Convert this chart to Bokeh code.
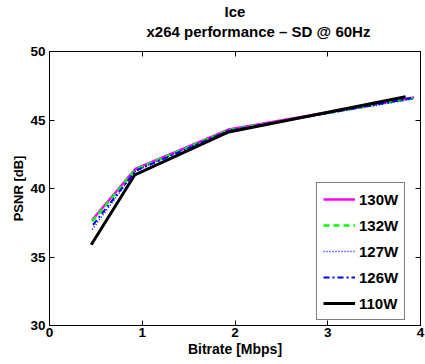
from bokeh.plotting import figure
from bokeh.models import (LinearAxis, Range1d, FixedTicker, Legend, LegendItem, Title,
                          CustomLabelingPolicy)
from bokeh.embed import file_html
from bokeh.resources import INLINE

bitrate_130 = [0.46, 0.93, 1.93, 3.93]
psnr_130 = [37.7, 41.45, 44.3, 46.65]
bitrate_132 = [0.46, 0.93, 1.93, 3.93]
psnr_132 = [37.6, 41.4, 44.25, 46.6]
bitrate_127 = [0.46, 0.93, 1.93, 3.93]
psnr_127 = [37.0, 41.3, 44.25, 46.55]
bitrate_126 = [0.47, 0.93, 1.93, 3.9]
psnr_126 = [37.35, 41.3, 44.2, 46.6]
bitrate_110 = [0.45, 0.92, 1.92, 3.84]
psnr_110 = [35.9, 41.0, 44.1, 46.7]

x_ticks = [0, 1, 2, 3, 4]
y_ticks = [30, 35, 40, 45, 50]

FONT = "Liberation Sans"

p = figure(frame_width=371, frame_height=274, output_backend="svg", toolbar_location=None,
           x_range=Range1d(0, 4), y_range=Range1d(30, 50),
           min_border_left=49, min_border_right=5, min_border_top=49, min_border_bottom=41)

p.xgrid.visible = False
p.ygrid.visible = False
p.outline_line_color = "black"
p.outline_line_width = 1
p.background_fill_color = "white"
p.border_fill_color = "white"

for ax in [p.xaxis[0], p.yaxis[0]]:
    ax.major_tick_in = 5
    ax.major_tick_out = 0
    ax.minor_tick_line_color = None
    ax.axis_line_color = "black"
    ax.major_label_text_font = FONT
    ax.major_label_text_font_style = "bold"
    ax.major_label_text_font_size = "13.5px"
    ax.major_label_text_color = "black"
    ax.axis_label_text_font = FONT
    ax.axis_label_text_font_style = "bold"
    ax.axis_label_text_color = "black"
    ax.axis_label_standoff = 1
p.xaxis.axis_label_text_font_size = "14px"
p.yaxis.axis_label_text_font_size = "13px"
p.xaxis.ticker = FixedTicker(ticks=x_ticks)
p.yaxis.ticker = FixedTicker(ticks=y_ticks)
p.xaxis.axis_label = "Bitrate [Mbps]"
p.yaxis.axis_label = "PSNR [dB]"
p.xaxis.major_label_standoff = 2
p.yaxis.major_label_standoff = 4

no_labels = "return new Set()"
top = LinearAxis(ticker=FixedTicker(ticks=x_ticks), major_tick_in=5, major_tick_out=0,
                 minor_tick_line_color=None, major_label_standoff=0,
                 major_label_policy=CustomLabelingPolicy(code=no_labels))
right = LinearAxis(ticker=FixedTicker(ticks=y_ticks), major_tick_in=5, major_tick_out=0,
                   minor_tick_line_color=None, major_label_standoff=0,
                   major_label_policy=CustomLabelingPolicy(code=no_labels))
p.add_layout(top, "above")
p.add_layout(right, "right")

sub = Title(text="x264 performance \u2013 SD @ 60Hz", align="left", offset=97, text_font=FONT,
            text_font_size="15px", text_font_style="bold", text_color="black", standoff=2)
main = Title(text="Ice", align="center", text_font=FONT,
             text_font_size="15px", text_font_style="bold", text_color="black", standoff=0)
p.add_layout(sub, "above")
p.add_layout(main, "above")

r130 = p.line(bitrate_130, psnr_130, line_color="#FF00FF", line_width=2.5)
r132 = p.line(bitrate_132, psnr_132, line_color="#00FF00", line_width=2.5, line_dash="6 4")
r127 = p.line(bitrate_127, psnr_127, line_color="#0000FF", line_width=1.5, line_dash="1 2")
r126 = p.line(bitrate_126, psnr_126, line_color="#0000FF", line_width=2, line_dash="6 3 2 3")
r110 = p.line(bitrate_110, psnr_110, line_color="black", line_width=3)

legend = Legend(items=[
    LegendItem(label="130W", renderers=[r130]),
    LegendItem(label="132W", renderers=[r132]),
    LegendItem(label="127W", renderers=[r127]),
    LegendItem(label="126W", renderers=[r126]),
    LegendItem(label="110W", renderers=[r110]),
], location=(267, 5))
legend.label_text_font = FONT
legend.label_text_font_style = "bold"
legend.label_text_font_size = "15px"
legend.label_text_color = "black"
legend.glyph_width = 32
legend.glyph_height = 20
legend.label_height = 20
legend.spacing = 6
legend.padding = 6
legend.margin = 0
legend.label_standoff = 4
legend.border_line_color = "black"
legend.border_line_width = 1
legend.background_fill_alpha = 1
p.add_layout(legend, "center")

open("out.html", "w").write(file_html(p, INLINE))
